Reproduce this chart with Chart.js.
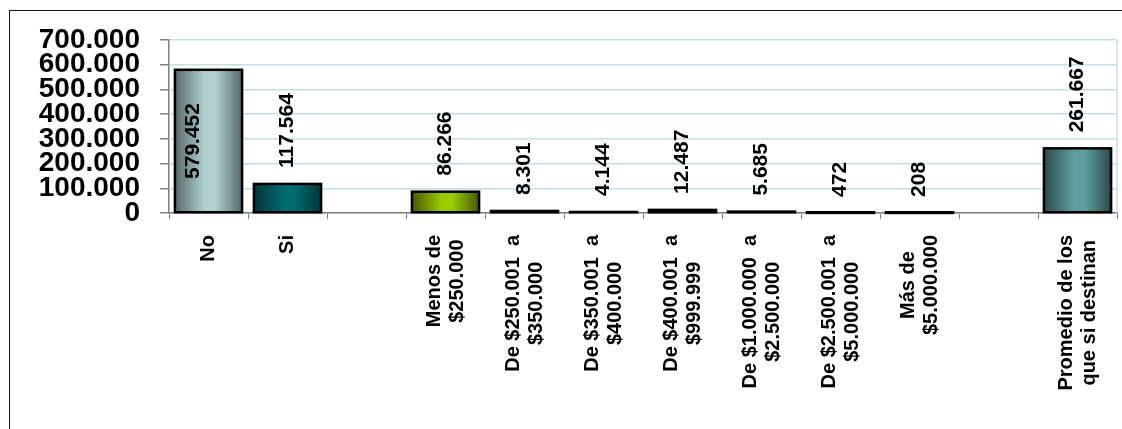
<!DOCTYPE html>
<html>
<head>
<meta charset="utf-8">
<script src="https://cdn.jsdelivr.net/npm/chart.js@4/dist/chart.umd.min.js"></script>
<style>
    html, body { margin: 0; padding: 0; background: #fff; }
    #contenedor { position: relative; width: 1122px; height: 429px; overflow: hidden; }
    #marco { position: absolute; left: 9px; top: 10px; width: 1200px; height: 500px;
             border-top: 1.5px solid #111; border-left: 1.5px solid #111; pointer-events: none; }
</style>
</head>
<body>
<div id="contenedor">
    <canvas id="grafica" width="1122" height="429"></canvas>
    <div id="marco"></div>
</div>
<script>
const categorias = [
    ['No'],
    ['Si'],
    [''],
    ['Menos de', '$250.000'],
    ['De $250.001  a', '$350.000'],
    ['De $350.001  a', '$400.000'],
    ['De $400.001  a', '$999.999'],
    ['De $1.000.000  a', '$2.500.000'],
    ['De $2.500.001  a', '$5.000.000'],
    ['Más de', '$5.000.000'],
    [''],
    ['Promedio de los', 'que si destinan']
];
const valores = [579452, 117564, null, 86266, 8301, 4144, 12487, 5685, 472, 208, null, 261667];
const ticksY = [0, 100000, 200000, 300000, 400000, 500000, 600000, 700000];

// colores del degradado: borde y centro de cada barra
const coloresBorde = ['#56696a', '#003738', '#1a1a1a', '#4a5800', '#1a1a1a', '#1a1a1a', '#3a3a00', '#1a1a1a', '#1a1a1a', '#1a1a1a', '#1a1a1a', '#2c4a4b'];
const coloresCentro = ['#b2d2d2', '#006b6e', '#444444', '#9acc00', '#444444', '#444444', '#808000', '#444444', '#444444', '#444444', '#444444', '#5f9fa1'];

const fuente = "'Liberation Sans', Arial, sans-serif";

function formatoMiles(n) {
    return String(n).replace(/\B(?=(\d{3})+(?!\d))/g, '.');
}

function degradado(ctx) {
    const i = ctx.dataIndex;
    const chart = ctx.chart;
    const x = chart.scales.x;
    if (i == null || !x || !chart.chartArea) return coloresCentro[i] || '#444';
    const cx = x.getPixelForValue(i);
    const w = (x.width / categorias.length) * 0.85;
    const g = chart.ctx.createLinearGradient(cx - w / 2, 0, cx + w / 2, 0);
    g.addColorStop(0, coloresBorde[i]);
    g.addColorStop(0.45, coloresCentro[i]);
    g.addColorStop(0.6, coloresCentro[i]);
    g.addColorStop(1, coloresBorde[i]);
    return g;
}

const bordeArea = {
    id: 'bordeArea',
    beforeDatasetsDraw(chart) {
        const { ctx, chartArea } = chart;
        ctx.save();
        ctx.strokeStyle = '#c6dfe2';
        ctx.lineWidth = 1.5;
        ctx.beginPath();
        ctx.moveTo(chartArea.right, chartArea.top);
        ctx.lineTo(chartArea.right, chartArea.bottom);
        ctx.stroke();
        ctx.restore();
    }
};

const contornos = {
    id: 'contornos',
    afterDatasetsDraw(chart) {
        const { ctx } = chart;
        const meta = chart.getDatasetMeta(0);
        ctx.save();
        ctx.strokeStyle = '#000';
        ctx.lineWidth = 2.5;
        meta.data.forEach((el, i) => {
            if (valores[i] == null) return;
            const { x, y, base, width } = el.getProps(['x', 'y', 'base', 'width'], true);
            ctx.strokeRect(x - width / 2, y, width, base - y);
        });
        ctx.restore();
    }
};

const etiquetasDatos = {
    id: 'etiquetasDatos',
    afterDatasetsDraw(chart) {
        const { ctx } = chart;
        const meta = chart.getDatasetMeta(0);
        ctx.save();
        ctx.fillStyle = '#000';
        ctx.font = 'bold 21px ' + fuente;
        ctx.textBaseline = 'middle';
        meta.data.forEach((el, i) => {
            if (valores[i] == null) return;
            const { x, y, base } = el.getProps(['x', 'y', 'base'], true);
            const texto = formatoMiles(valores[i]);
            ctx.save();
            if (i === 0) {
                // dentro de la barra
                ctx.translate(x - 15, (y + base) / 2);
                ctx.rotate(-Math.PI / 2);
                ctx.textAlign = 'center';
            } else {
                ctx.translate(x, y - 16);
                ctx.rotate(-Math.PI / 2);
                ctx.textAlign = 'left';
            }
            ctx.fillText(texto, 0, 0);
            ctx.restore();
        });
        ctx.restore();
    }
};

const etiquetasX = {
    id: 'etiquetasX',
    afterDraw(chart) {
        const { ctx } = chart;
        const x = chart.scales.x;
        const inicio = chart.chartArea.bottom + 22;
        const alto = 23;
        ctx.save();
        ctx.fillStyle = '#000';
        ctx.font = 'bold 20px ' + fuente;
        ctx.textAlign = 'center';
        ctx.textBaseline = 'middle';
        categorias.forEach((lineas, i) => {
            const cx = x.getPixelForValue(i);
            const maxW = Math.max(...lineas.map(l => ctx.measureText(l).width));
            ctx.save();
            ctx.translate(cx, inicio + maxW / 2);
            ctx.rotate(-Math.PI / 2);
            lineas.forEach((l, j) => {
                ctx.fillText(l, 0, (j - (lineas.length - 1) / 2) * alto);
            });
            ctx.restore();
        });
        ctx.restore();
    }
};

new Chart(document.getElementById('grafica').getContext('2d'), {
    type: 'bar',
    data: {
        labels: categorias,
        datasets: [{
            data: valores,
            backgroundColor: degradado,
            borderWidth: 0,
            barPercentage: 0.85,
            categoryPercentage: 1
        }]
    },
    options: {
        responsive: false,
        animation: false,
        layout: { padding: { left: 10, right: 5, top: 40, bottom: 0 } },
        plugins: {
            legend: { display: false },
            tooltip: { enabled: false }
        },
        scales: {
            x: {
                offset: true,
                grid: {
                    offset: true,
                    drawOnChartArea: false,
                    tickLength: 6,
                    tickColor: '#808080'
                },
                border: { color: '#808080', width: 1.5 },
                ticks: { display: false },
                afterFit(scale) { scale.height = 216; }
            },
            y: {
                min: 0,
                max: 700000,
                afterBuildTicks(scale) {
                    scale.ticks = ticksY.map(v => ({ value: v }));
                },
                grid: {
                    color: '#c6dfe2',
                    lineWidth: 1.5,
                    tickLength: 9,
                    tickColor: '#808080'
                },
                border: { color: '#808080', width: 1.5 },
                ticks: {
                    autoSkip: false,
                    color: '#000',
                    padding: 20,
                    font: { family: fuente, size: 28, weight: 'bold' },
                    callback: v => formatoMiles(v)
                },
                afterFit(scale) { scale.width = 159; }
            }
        }
    },
    plugins: [bordeArea, contornos, etiquetasDatos, etiquetasX]
});
</script>
</body>
</html>
